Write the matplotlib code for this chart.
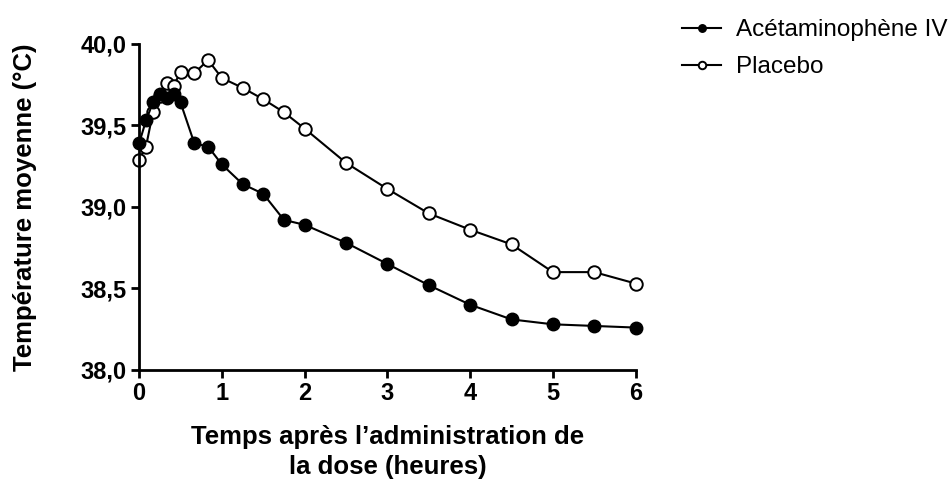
import matplotlib
matplotlib.use("Agg")
import matplotlib.pyplot as plt
from matplotlib.ticker import FuncFormatter

plt.rcParams['font.family'] = ['Liberation Sans', 'DejaVu Sans']

# temps (heures)
t_acet = [0, 0.083, 0.167, 0.25, 0.333, 0.417, 0.5, 0.667, 0.833, 1.0, 1.25, 1.5, 1.75,
          2.0, 2.5, 3.0, 3.5, 4.0, 4.5, 5.0, 5.5, 6.0]
temp_acet = [39.39, 39.53, 39.64, 39.69, 39.67, 39.69, 39.64, 39.39, 39.37, 39.26, 39.14,
             39.08, 38.92, 38.89, 38.78, 38.65, 38.52, 38.40, 38.31, 38.28, 38.27, 38.26]

t_placebo = t_acet
temp_placebo = [39.29, 39.37, 39.58, 39.68, 39.76, 39.74, 39.83, 39.82, 39.90, 39.79, 39.73,
                39.66, 39.58, 39.48, 39.27, 39.11, 38.96, 38.86, 38.77, 38.60, 38.60, 38.53]

xticks = [0, 1, 2, 3, 4, 5, 6]
yticks = [38.0, 38.5, 39.0, 39.5, 40.0]

fig = plt.figure(figsize=(9.53, 4.79), dpi=100)
ax = fig.add_axes([0.146, 0.2276, 0.521, 0.681])

ax.plot(t_placebo, temp_placebo, color='black', lw=1.5, marker='o', ms=9,
        mfc='white', mec='black', mew=1.4, label='Placebo', zorder=2)
ax.plot(t_acet, temp_acet, color='black', lw=1.5, marker='o', ms=9,
        mfc='black', mec='black', label='Acétaminophène IV', zorder=3)

ax.set_xlim(0, 6)
ax.set_ylim(38.0, 40.0)
ax.set_xticks(xticks)
ax.set_yticks(yticks)
ax.yaxis.set_major_formatter(FuncFormatter(lambda v, p: f"{v:.1f}".replace('.', ',')))
ax.tick_params(width=2, length=6, labelsize=17, pad=3)
for lab in ax.get_xticklabels() + ax.get_yticklabels():
    lab.set_fontweight('bold')

for s in ['top', 'right']:
    ax.spines[s].set_visible(False)
for s in ['left', 'bottom']:
    ax.spines[s].set_linewidth(2)
for line in ax.lines:
    line.set_clip_on(False)

ax.set_ylabel('Température moyenne (°C)', fontsize=18.5, fontweight='bold', labelpad=31)
ax.set_xlabel("Temps après l’administration de\nla dose (heures)", fontsize=18.5,
              fontweight='bold', labelpad=14, linespacing=1.3)

handles, labels = ax.get_legend_handles_labels()
leg = fig.legend(handles[::-1], labels[::-1], loc='upper left', bbox_to_anchor=(0.693, 1.005),
                 frameon=False, fontsize=17.5, handlelength=1.6, markerscale=0.6,
                 labelspacing=0.6, handletextpad=0.6)

fig.savefig('out.png', dpi=100)
